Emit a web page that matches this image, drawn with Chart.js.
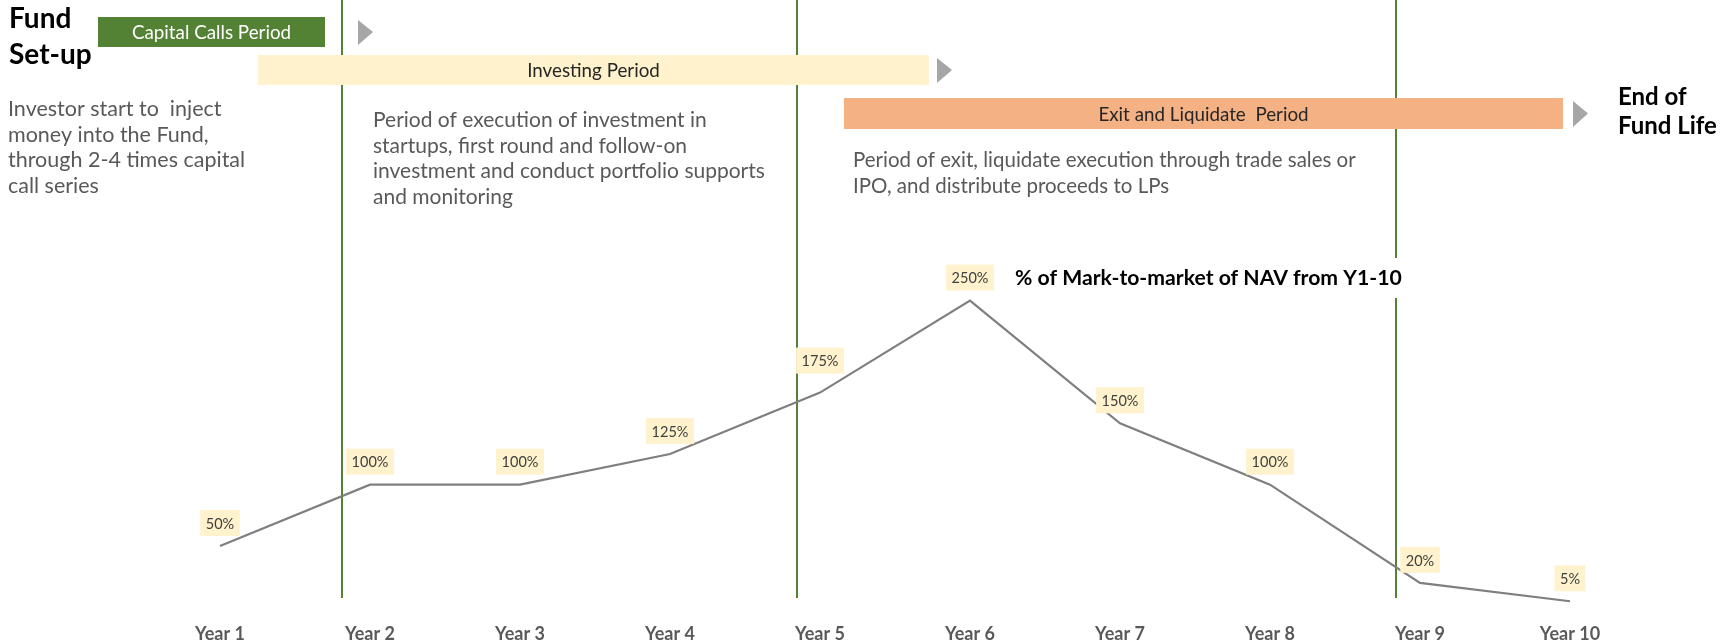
<!DOCTYPE html>
<html>
<head>
<meta charset="utf-8">
<title>Fund life cycle - NAV</title>
<script src="https://cdn.jsdelivr.net/npm/chart.js@4.4.1/dist/chart.umd.min.js"></script>
<style>
  html, body { margin: 0; padding: 0; background: #fff; }
  #wrap { width: 1734px; height: 643px; }
</style>
</head>
<body>
<div id="wrap"><canvas id="navChart" width="1734" height="643"></canvas></div>
<script>
// chart data
const years = ['Year 1', 'Year 2', 'Year 3', 'Year 4', 'Year 5', 'Year 6', 'Year 7', 'Year 8', 'Year 9', 'Year 10'];
const navPct = [50, 100, 100, 125, 175, 250, 150, 100, 20, 5];
// period boundaries, in category-index units (0 = Year 1)
const phaseBounds = [0.81, 3.85, 7.84];

const chartTitle = '% of Mark-to-market of NAV from Y1-10';

// header: period bars
const periods = [
  { label: 'Capital Calls Period', x0: 98, x1: 325, y0: 17, y1: 47, fill: '#548235', color: '#ffffff', base: 39, arrow: 358 },
  { label: 'Investing Period', x0: 258, x1: 929, y0: 55, y1: 85, fill: '#FFF2CC', color: '#262626', base: 77, arrow: 937 },
  { label: 'Exit and Liquidate  Period', x0: 844, x1: 1563, y0: 98, y1: 129, fill: '#F4B183', color: '#262626', base: 121, arrow: 1573 }
];

// notes under the bars
const notes = [
  { x: 8, base: 116, size: 21.5, lines: ['Investor start to  inject', 'money into the Fund,', 'through 2-4 times capital', 'call series'] },
  { x: 373, base: 127, size: 21, lines: ['Period of execution of investment in', 'startups, first round and follow-on', 'investment and conduct portfolio supports', 'and monitoring'] },
  { x: 853, base: 167, size: 20.5, lines: ['Period of exit, liquidate execution through trade sales or', 'IPO, and distribute proceeds to LPs'] }
];

const green = '#548235';

// draws the phase lines behind the series
const phaseLines = {
  id: 'phaseLines',
  beforeDatasetsDraw(chart) {
    const ctx = chart.ctx;
    const x = chart.scales.x;
    ctx.save();
    ctx.strokeStyle = green;
    ctx.lineWidth = 2;
    phaseBounds.forEach(b => {
      const px = Math.round(x.getPixelForValue(b));
      ctx.beginPath();
      ctx.moveTo(px, 0);
      ctx.lineTo(px, 598);
      ctx.stroke();
    });
    ctx.restore();
  }
};

// labels, header bars and texts on top
const overlay = {
  id: 'overlay',
  afterDatasetsDraw(chart) {
    const ctx = chart.ctx;
    const meta = chart.getDatasetMeta(0);
    ctx.save();

    // value labels (the Year 5 one sits a bit higher in the original)
    ctx.font = '14.5px Lato';
    ctx.textAlign = 'center';
    ctx.textBaseline = 'middle';
    meta.data.forEach((pt, i) => {
      const txt = navPct[i] + '%';
      const w = ctx.measureText(txt).width + 11;
      const cy = pt.y - (i === 4 ? 32 : 23);
      ctx.fillStyle = '#FFF2CC';
      ctx.fillRect(pt.x - w / 2, cy - 13, w, 26);
      ctx.fillStyle = '#404040';
      ctx.fillText(txt, pt.x, cy + 1);
    });

    // series title with white backing
    ctx.font = 'bold 21.2px Lato';
    const tw = ctx.measureText(chartTitle).width;
    ctx.fillStyle = '#ffffff';
    ctx.fillRect(1006, 258, tw + 18, 40);
    ctx.fillStyle = '#000000';
    ctx.textAlign = 'left';
    ctx.textBaseline = 'alphabetic';
    ctx.fillText(chartTitle, 1015, 285);

    // period bars + arrows
    periods.forEach(p => {
      ctx.fillStyle = p.fill;
      ctx.fillRect(p.x0, p.y0, p.x1 - p.x0, p.y1 - p.y0);
      ctx.fillStyle = p.color;
      ctx.font = '18.8px Lato';
      ctx.textAlign = 'center';
      ctx.fillText(p.label, (p.x0 + p.x1) / 2, p.base);
      ctx.fillStyle = '#A6A6A6';
      ctx.beginPath();
      ctx.moveTo(p.arrow, p.y0 + 3);
      ctx.lineTo(p.arrow + 15, (p.y0 + p.y1) / 2);
      ctx.lineTo(p.arrow, p.y1 - 2);
      ctx.closePath();
      ctx.fill();
    });

    // notes
    ctx.textAlign = 'left';
    ctx.fillStyle = '#595959';
    notes.forEach(n => {
      ctx.font = n.size + 'px Lato';
      n.lines.forEach((line, i) => ctx.fillText(line, n.x, n.base + i * 25.7));
    });

    // start / end headings
    ctx.fillStyle = '#000000';
    ctx.font = 'bold 28px Lato';
    ctx.fillText('Fund', 9, 28);
    ctx.fillText('Set-up', 9, 64);
    ctx.font = 'bold 24px Lato';
    ctx.fillText('End of', 1618, 105);
    ctx.fillText('Fund Life', 1618, 134);

    ctx.restore();
  }
};

new Chart(document.getElementById('navChart'), {
  type: 'line',
  data: {
    labels: years,
    datasets: [{
      label: chartTitle,
      data: navPct,
      borderColor: '#7F7F7F',
      borderWidth: 2.2,
      pointRadius: 0,
      tension: 0,
      fill: false
    }]
  },
  options: {
    responsive: false,
    animation: false,
    layout: { padding: { left: 145, right: 89, top: 6, bottom: -18 } },
    plugins: {
      legend: { display: false },
      tooltip: { enabled: false },
      title: { display: false }
    },
    scales: {
      x: {
        offset: true,
        grid: { display: false, drawTicks: false },
        border: { display: false },
        ticks: { color: '#595959', padding: 16, font: { family: 'Lato', size: 18, weight: 'bold' } }
      },
      y: { display: false, min: 0, max: 490 }
    }
  },
  plugins: [phaseLines, overlay]
});
</script>
</body>
</html>
